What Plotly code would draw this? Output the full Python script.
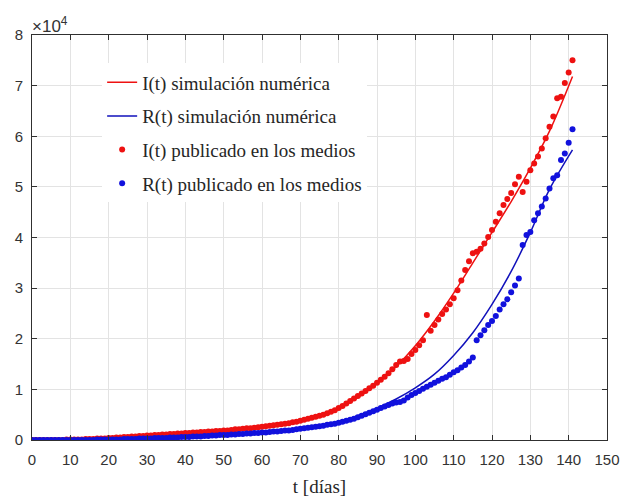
import plotly.graph_objects as go

# Simulation curves (sampled every 5 days, last at day 141), values in units of 1e4
t_sim = [0, 5, 10, 15, 20, 25, 30, 35, 40, 45, 50, 55, 60, 65, 70, 75, 80, 85,
         90, 95, 100, 105, 110, 115, 120, 125, 130, 135, 141]
I_sim = [0.00, 0.01, 0.015, 0.025, 0.04, 0.06, 0.08, 0.11, 0.14, 0.165, 0.19, 0.22,
         0.26, 0.31, 0.38, 0.48, 0.62, 0.84, 1.12, 1.45, 1.86, 2.35, 2.90, 3.50,
         4.10, 4.71, 5.37, 6.10, 7.18]
R_sim = [0.00, 0.005, 0.01, 0.015, 0.02, 0.03, 0.04, 0.05, 0.06, 0.075, 0.09, 0.11,
         0.13, 0.16, 0.20, 0.27, 0.36, 0.48, 0.63, 0.81, 1.03, 1.30, 1.67, 2.12,
         2.68, 3.33, 4.10, 4.95, 5.73]

# Published data (daily, day 0..141), values in units of 1e4
t_pub = list(range(142))
I_pub = [0.00, 0.00, 0.00, 0.00, 0.00, 0.00, 0.00, 0.00, 0.00, 0.01,
         0.01, 0.01, 0.01, 0.01, 0.02, 0.02, 0.02, 0.03, 0.03, 0.03,
         0.04, 0.04, 0.05, 0.05, 0.06, 0.06, 0.07, 0.07, 0.08, 0.08,
         0.09, 0.09, 0.10, 0.10, 0.11, 0.11, 0.12, 0.12, 0.13, 0.13,
         0.14, 0.14, 0.15, 0.15, 0.16, 0.16, 0.17, 0.17, 0.18, 0.18,
         0.19, 0.19, 0.20, 0.21, 0.21, 0.22, 0.23, 0.23, 0.24, 0.25,
         0.26, 0.27, 0.28, 0.29, 0.30, 0.31, 0.32, 0.33, 0.35, 0.36,
         0.38, 0.40, 0.42, 0.44, 0.46, 0.48, 0.50, 0.53, 0.56, 0.59,
         0.63, 0.67, 0.72, 0.77, 0.82, 0.87, 0.92, 0.97, 1.02, 1.07,
         1.13, 1.19, 1.25, 1.32, 1.40, 1.48, 1.55, 1.56, 1.60, 1.70,
         1.78, 1.87, 1.97, 2.47, 2.16, 2.27, 2.38, 2.49, 2.58, 2.68,
         2.80, 2.96, 3.15, 3.36, 3.53, 3.69, 3.72, 3.78, 3.88, 4.01,
         4.15, 4.31, 4.48, 4.64, 4.76, 4.88, 5.05, 5.20, 4.90, 5.10,
         5.33, 5.46, 5.60, 5.76, 5.96, 6.19, 6.39, 6.75, 6.78, 7.05,
         7.26, 7.50]
R_pub = [0.00, 0.00, 0.00, 0.00, 0.00, 0.00, 0.00, 0.00, 0.00, 0.00,
         0.00, 0.00, 0.00, 0.00, 0.00, 0.00, 0.00, 0.01, 0.01, 0.01,
         0.01, 0.01, 0.01, 0.01, 0.02, 0.02, 0.02, 0.02, 0.03, 0.03,
         0.03, 0.03, 0.04, 0.04, 0.04, 0.04, 0.05, 0.05, 0.05, 0.06,
         0.06, 0.06, 0.07, 0.07, 0.07, 0.08, 0.08, 0.09, 0.09, 0.10,
         0.10, 0.10, 0.11, 0.11, 0.12, 0.12, 0.13, 0.13, 0.14, 0.14,
         0.15, 0.15, 0.16, 0.17, 0.17, 0.18, 0.19, 0.19, 0.20, 0.21,
         0.22, 0.23, 0.24, 0.25, 0.26, 0.27, 0.28, 0.30, 0.31, 0.32,
         0.34, 0.36, 0.38, 0.40, 0.42, 0.45, 0.48, 0.51, 0.54, 0.57,
         0.60, 0.63, 0.66, 0.69, 0.72, 0.74, 0.75, 0.78, 0.84, 0.89,
         0.93, 0.97, 1.01, 1.05, 1.09, 1.13, 1.17, 1.21, 1.24, 1.29,
         1.34, 1.38, 1.43, 1.48, 1.55, 1.63, 1.97, 2.07, 2.17, 2.27,
         2.35, 2.45, 2.58, 2.68, 2.78, 2.92, 3.05, 3.19, 3.85, 4.05,
         4.11, 4.34, 4.48, 4.61, 4.77, 4.97, 5.17, 5.23, 5.53, 5.66,
         5.87, 6.14]

x_ticks = list(range(0, 151, 10))
y_ticks = list(range(0, 9))

SCALE = 1e4
serif = "Liberation Serif, Times New Roman, serif"
sans = "Liberation Sans, Arial, sans-serif"

fig = go.Figure()
fig.add_trace(go.Scatter(x=t_sim, y=[v * SCALE for v in I_sim], mode="lines",
                         line=dict(color="#ee1111", width=1.5, shape="spline"),
                         name="I(t) simulación numérica", legendgroup="a"))
fig.add_trace(go.Scatter(x=t_sim, y=[v * SCALE for v in R_sim], mode="lines",
                         line=dict(color="#1111bb", width=1.5, shape="spline"),
                         name="R(t) simulación numérica", legendgroup="b"))
fig.add_trace(go.Scatter(x=t_pub, y=[v * SCALE for v in I_pub], mode="markers",
                         marker=dict(color="#ee1111", size=6),
                         name="I(t) publicado en los medios", legendgroup="c"))
fig.add_trace(go.Scatter(x=t_pub, y=[v * SCALE for v in R_pub], mode="markers",
                         marker=dict(color="#1111dd", size=6),
                         name="R(t) publicado en los medios", legendgroup="d"))

axis_common = dict(showgrid=True, gridcolor="#e3e3e3", gridwidth=1,
                   showline=True, linecolor="#303030", linewidth=1,
                   mirror="allticks", ticks="inside", ticklen=5,
                   tickcolor="#303030", zeroline=False, automargin=False,
                   tickfont=dict(family=sans, size=15, color="#333333"))

fig.update_xaxes(range=[0, 150], tickvals=x_ticks,
                 ticktext=[str(v) for v in x_ticks], ticklabelstandoff=6,
                 title=dict(text="t [días]", font=dict(family=serif, size=19, color="#262626"),
                            standoff=13),
                 **axis_common)
fig.update_yaxes(range=[0, 8 * SCALE], tickvals=[v * SCALE for v in y_ticks],
                 ticktext=[str(v) for v in y_ticks], ticklabelstandoff=5,
                 **axis_common)

fig.add_annotation(text="×10<sup>4</sup>", x=0, y=1, xref="paper", yref="paper",
                   xanchor="left", yanchor="bottom", showarrow=False,
                   font=dict(family=sans, size=17, color="#333333"), yshift=-3, xshift=-2)

fig.update_layout(
    width=625, height=497,
    margin=dict(l=32, r=18, t=35, b=57),
    plot_bgcolor="white", paper_bgcolor="white",
    legend=dict(x=0.122, y=0.93, xanchor="left", yanchor="top",
                bgcolor="white", borderwidth=0, tracegroupgap=6,
                font=dict(family=serif, size=19, color="#262626")),
)

fig.write_html("out.html")
